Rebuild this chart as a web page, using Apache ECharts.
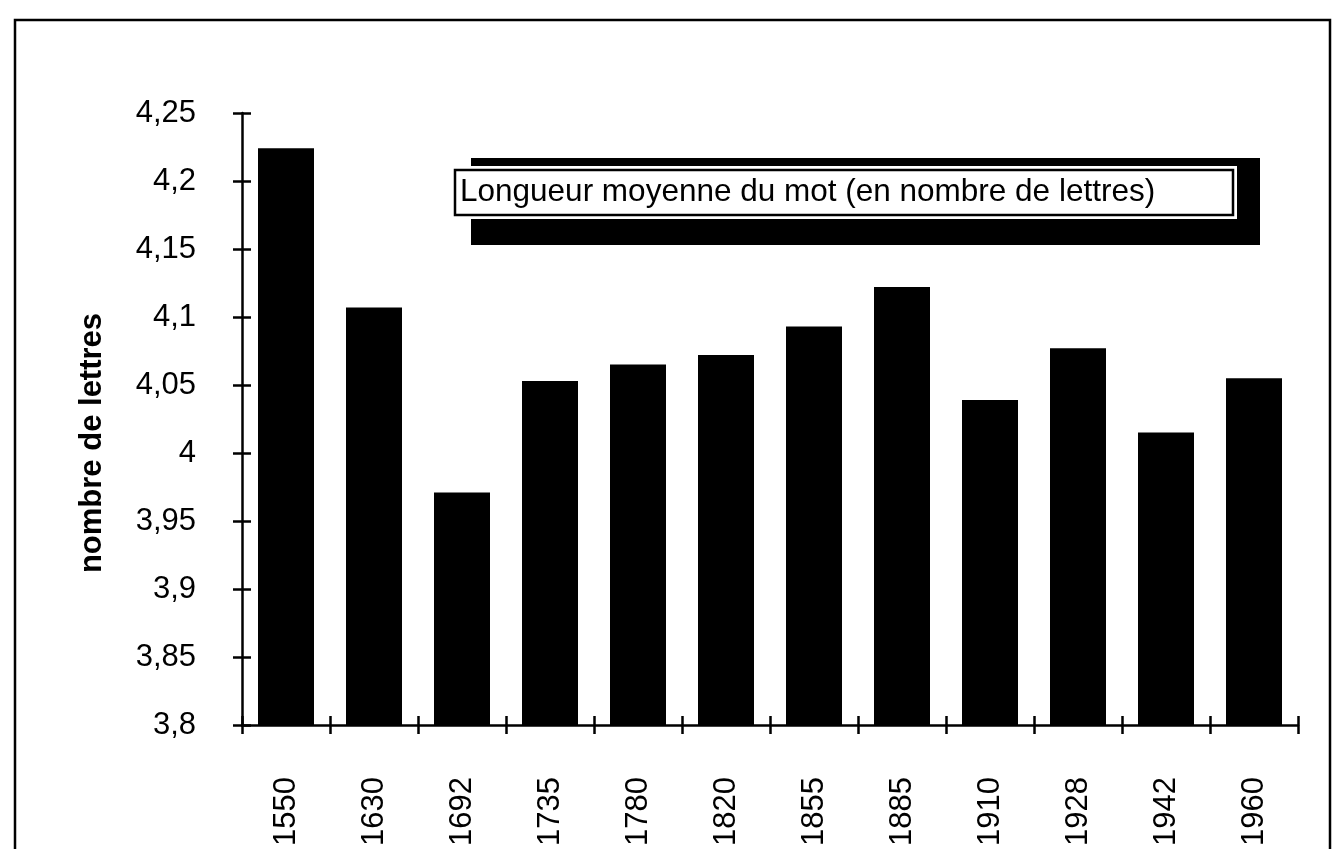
<!DOCTYPE html>
<html>
<head>
<meta charset="utf-8">
<script src="https://cdn.jsdelivr.net/npm/echarts@6/dist/echarts.min.js"></script>
<style>
html,body{margin:0;padding:0;background:#fff;}
#chart{width:1341px;height:849px;}
</style>
</head>
<body>
<div id="chart"></div>
<script>
const categories = ['1550','1630','1692','1735','1780','1820','1855','1885','1910','1928','1942','1960'];
const values = [4.224, 4.107, 3.971, 4.053, 4.065, 4.072, 4.093, 4.122, 4.039, 4.077, 4.015, 4.055];
const yMin = 3.8, yMax = 4.25, yStep = 0.05;
const seriesName = 'Longueur moyenne du mot (en nombre de lettres)';
const yTitle = 'nombre de lettres';

const FONT = '"Liberation Sans", Arial, Helvetica, sans-serif';
const chart = echarts.init(document.getElementById('chart'));
const fmt = v => String(+v.toFixed(2)).replace('.', ',');
const lineStyle = {color:'#000', width:2.5};

chart.setOption({
  animation:false,
  backgroundColor:'#fff',
  grid:{left:242, right:43, top:113, bottom:121, containLabel:false},
  xAxis:[{
    type:'category', data:categories, boundaryGap:true,
    axisLine:{lineStyle:lineStyle},
    axisTick:{show:true, length:9, inside:false, lineStyle:lineStyle},
    axisLabel:{rotate:90, margin:52, fontSize:31, color:'#000', fontFamily:FONT},
    splitLine:{show:false}
  },{
    type:'category', data:categories, boundaryGap:true, position:'bottom',
    axisLine:{show:false},
    axisTick:{show:true, length:9, inside:true, lineStyle:lineStyle},
    axisLabel:{show:false}, splitLine:{show:false}
  }],
  yAxis:[{
    type:'value', min:yMin, max:yMax, interval:yStep,
    axisLine:{show:true, lineStyle:lineStyle},
    axisTick:{show:true, length:9, inside:false, lineStyle:lineStyle},
    axisLabel:{formatter:fmt, margin:46, fontSize:31, color:'#000', fontFamily:FONT},
    splitLine:{show:false}
  },{
    type:'value', min:yMin, max:yMax, interval:yStep, position:'left', offset:0,
    axisLine:{show:false},
    axisTick:{show:true, length:9, inside:true, lineStyle:lineStyle},
    axisLabel:{show:false}, splitLine:{show:false}
  }],
  series:[{
    name:seriesName, type:'bar', data:values, barWidth:56,
    xAxisIndex:0, yAxisIndex:0,
    itemStyle:{color:'#000'}
  }],
  graphic:[
    {type:'rect', shape:{x:15, y:20, width:1315, height:900},
     style:{fill:'none', stroke:'#000', lineWidth:2.5}, z:0},
    {type:'rect', shape:{x:471, y:158, width:789, height:87},
     style:{fill:'#000'}, z:1},
    {type:'rect', shape:{x:451, y:166, width:786, height:53},
     style:{fill:'#fff'}, z:2},
    {type:'rect', shape:{x:455, y:170, width:778, height:45},
     style:{fill:'#fff', stroke:'#000', lineWidth:2.5}, z:3},
    {type:'text', x:460, y:192, z:4,
     style:{text:seriesName, fill:'#000', font:'31.5px ' + FONT, textAlign:'left', textVerticalAlign:'middle'}},
    {type:'text', x:92, y:443, rotation:Math.PI/2, z:4,
     style:{text:yTitle, fill:'#000', font:'bold 31px ' + FONT, textAlign:'center', textVerticalAlign:'middle'}}
  ]
});
</script>
</body>
</html>
